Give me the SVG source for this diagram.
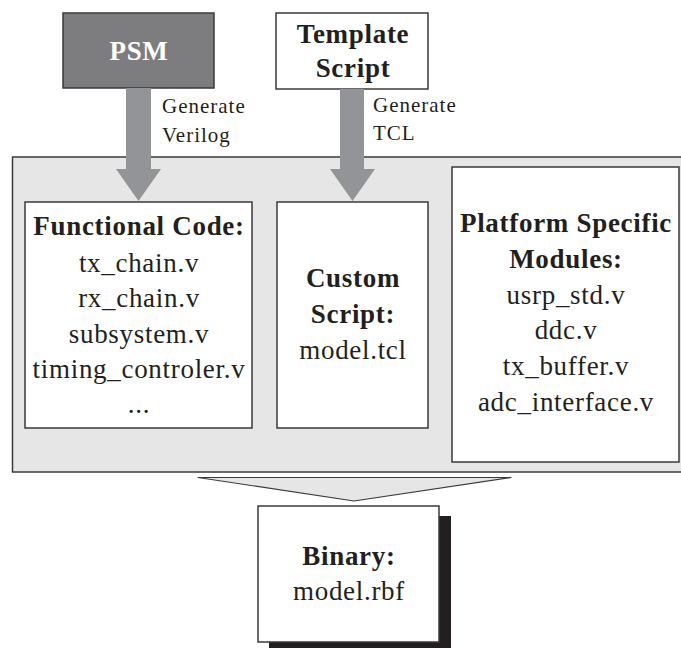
<svg xmlns="http://www.w3.org/2000/svg" width="681" height="648" viewBox="0 0 681 648">
<style>
.box{fill:#ffffff;stroke:#3a3a3a;stroke-width:1.5}
.t{font-family:"Liberation Serif","Times New Roman",serif;font-size:27px;fill:#231f20;letter-spacing:0.7px;text-anchor:middle}
.b{font-weight:bold}
.lbl{font-family:"Liberation Serif","Times New Roman",serif;font-size:21px;fill:#231f20;letter-spacing:1px}
.arrow{fill:#939497;stroke:none}
</style>
<rect width="681" height="648" fill="#ffffff"/>
<g id="container">
<rect x="12.5" y="157" width="672" height="315" fill="#e6e6e7" stroke="#3a3a3a" stroke-width="1.5"/>
</g>
<g id="psm">
<rect x="63" y="13" width="151" height="75" fill="#7d7d7f" stroke="#3a3a3a" stroke-width="1.5"/>
<text class="t b" x="139" y="60" style="fill:#ffffff">PSM</text>
</g>
<g id="template">
<rect class="box" x="276" y="13" width="152" height="76"/>
<text class="t b" x="353" y="43">Template</text>
<text class="t b" x="353" y="77">Script</text>
</g>
<g id="functional">
<rect class="box" x="25" y="202" width="227" height="226"/>
<text class="t b" x="139" y="235">Functional Code:</text>
<text class="t" x="139" y="272">tx_chain.v</text>
<text class="t" x="139" y="307">rx_chain.v</text>
<text class="t" x="139" y="343">subsystem.v</text>
<text class="t" x="139" y="378">timing_controler.v</text>
<text class="t" x="139" y="413">...</text>
</g>
<g id="custom">
<rect class="box" x="277" y="202" width="151" height="226"/>
<text class="t b" x="353" y="287">Custom</text>
<text class="t b" x="353" y="323">Script:</text>
<text class="t" x="353" y="359">model.tcl</text>
</g>
<g id="platform">
<rect class="box" x="452" y="167" width="227" height="295"/>
<text class="t b" x="566" y="232">Platform Specific</text>
<text class="t b" x="566" y="268">Modules:</text>
<text class="t" x="566" y="304">usrp_std.v</text>
<text class="t" x="566" y="339">ddc.v</text>
<text class="t" x="566" y="375">tx_buffer.v</text>
<text class="t" x="566" y="411">adc_interface.v</text>
</g>
<g id="binary">
<rect x="269" y="516" width="182" height="140" fill="#231f20"/>
<rect class="box" x="258" y="506" width="181" height="136"/>
<text class="t b" x="349" y="565">Binary:</text>
<text class="t" x="349" y="600">model.rbf</text>
</g>
<g id="connectors">
<polygon class="arrow" points="126,88 151,88 151,169 161,169 138.5,201 116,169 126,169"/>
<polygon class="arrow" points="340,89 364,89 364,169 375,169 352.5,201 330,169 340,169"/>
<polygon points="198,477.5 511,477.5 354,501" fill="#e6e6e7" stroke="#3a3a3a" stroke-width="1.2" stroke-linejoin="round"/>
<text class="lbl" x="162" y="113">Generate</text>
<text class="lbl" x="162" y="142">Verilog</text>
<text class="lbl" x="373" y="112">Generate</text>
<text class="lbl" x="373" y="140">TCL</text>
</g>
</svg>
